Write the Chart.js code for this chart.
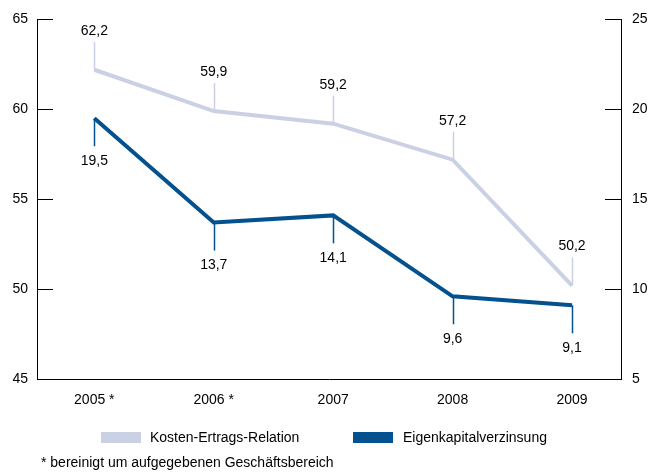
<!DOCTYPE html>
<html><head><meta charset="utf-8">
<script src="https://cdn.jsdelivr.net/npm/chart.js@4/dist/chart.umd.min.js"></script>
<style>html,body{margin:0;padding:0;background:#fff}#wrap{width:664px;height:472px;position:relative}canvas{display:block}</style>
</head><body><div id="wrap"><canvas id="c" width="664" height="472"></canvas></div>
<script>
const categories = ['2005 *', '2006 *', '2007', '2008', '2009'];
const kostenErtrags = [62.2, 59.9, 59.2, 57.2, 50.2];
const eigenkapital = [19.5, 13.7, 14.1, 9.6, 9.1];
const seriesNames = ['Kosten-Ertrags-Relation', 'Eigenkapitalverzinsung'];
const leftRange = [45, 65];
const rightRange = [5, 25];
const tickStep = 5;
const footnote = '* bereinigt um aufgegebenen Geschäftsbereich';

const LIGHT = '#cbd1e5';
const DARK = '#03518f';
const FONT = '"Liberation Sans", Arial, sans-serif';
Chart.defaults.font.family = FONT;
Chart.defaults.font.size = 14;
Chart.defaults.color = '#000';

const fmt = v => v.toFixed(1).replace('.', ',');

const decor = {
  id: 'decor',
  afterDatasetsDraw(chart) {
    const ctx = chart.ctx;
    const ca = chart.chartArea;
    ctx.save();
    // inward tick marks
    ctx.strokeStyle = '#000';
    ctx.lineWidth = 1;
    const ys = chart.scales.y, y2 = chart.scales.y2;
    ys.ticks.forEach(t => {
      const p = Math.round(ys.getPixelForValue(t.value)) + 0.5;
      ctx.beginPath(); ctx.moveTo(ca.left, p); ctx.lineTo(ca.left + 16, p); ctx.stroke();
    });
    y2.ticks.forEach(t => {
      const p = Math.round(y2.getPixelForValue(t.value)) + 0.5;
      ctx.beginPath(); ctx.moveTo(ca.right - 16, p); ctx.lineTo(ca.right, p); ctx.stroke();
    });
    // leader lines and value labels
    ctx.font = '14px ' + FONT;
    ctx.textAlign = 'center';
    ctx.textBaseline = 'middle';
    chart.data.datasets.forEach((ds, di) => {
      const meta = chart.getDatasetMeta(di);
      const dir = di === 0 ? -1 : 1;
      meta.data.forEach((pt, i) => {
        const x = Math.round(pt.x) + 0.5;
        ctx.strokeStyle = ds.borderColor;
        ctx.lineWidth = 1.5;
        ctx.beginPath(); ctx.moveTo(x, pt.y); ctx.lineTo(x, pt.y + dir * 28); ctx.stroke();
        ctx.fillStyle = '#000';
        const off = di === 0 ? 39 : 43;
        ctx.fillText(fmt(ds.data[i].y), pt.x, pt.y + dir * off);
      });
    });
    ctx.restore();
  },
  afterDraw(chart) {
    const ctx = chart.ctx;
    ctx.save();
    ctx.font = '14px ' + FONT;
    ctx.textBaseline = 'middle';
    ctx.textAlign = 'left';
    const items = [[101, 150], [353, 403]];
    chart.data.datasets.forEach((ds, di) => {
      ctx.fillStyle = ds.borderColor;
      ctx.fillRect(items[di][0], 432, 40, 11);
      ctx.fillStyle = '#000';
      ctx.fillText(ds.label, items[di][1], 438);
    });
    ctx.fillText(footnote, 41, 463);
    ctx.restore();
  }
};

new Chart(document.getElementById('c'), {
  type: 'line',
  data: {
    datasets: [
      { label: seriesNames[0], data: kostenErtrags.map((v, i) => ({ x: i, y: v })), yAxisID: 'y',
        borderColor: LIGHT, backgroundColor: LIGHT, borderWidth: 4, pointRadius: 0, tension: 0, borderJoinStyle: 'miter' },
      { label: seriesNames[1], data: eigenkapital.map((v, i) => ({ x: i, y: v })), yAxisID: 'y2',
        borderColor: DARK, backgroundColor: DARK, borderWidth: 4, pointRadius: 0, tension: 0, borderJoinStyle: 'miter' }
    ]
  },
  options: {
    responsive: false,
    animation: false,
    devicePixelRatio: 1,
    layout: { padding: { top: 16, left: 0, right: 0, bottom: 0 } },
    plugins: { legend: { display: false }, tooltip: { enabled: false } },
    scales: {
      x: {
        type: 'linear', position: 'bottom', min: -0.48, max: 4.41,
        afterBuildTicks: s => { s.ticks = categories.map((c, i) => ({ value: i })); },
        ticks: { callback: v => categories[v], padding: 13, maxRotation: 0, autoSkip: false },
        grid: { display: false, drawTicks: false },
        border: { display: true, color: '#000', width: 1 },
        afterFit: s => { s.height = 93; }
      },
      y: {
        position: 'left', min: leftRange[0], max: leftRange[1],
        ticks: { stepSize: tickStep, padding: 9 },
        grid: { display: false, drawTicks: false },
        border: { display: true, color: '#000', width: 1 },
        afterFit: s => { s.width = 37; }
      },
      y2: {
        position: 'right', min: rightRange[0], max: rightRange[1],
        ticks: { stepSize: tickStep, padding: 11 },
        grid: { display: false, drawTicks: false },
        border: { display: true, color: '#000', width: 1 },
        afterFit: s => { s.width = 43; }
      }
    }
  },
  plugins: [decor]
});
</script>
</body></html>
